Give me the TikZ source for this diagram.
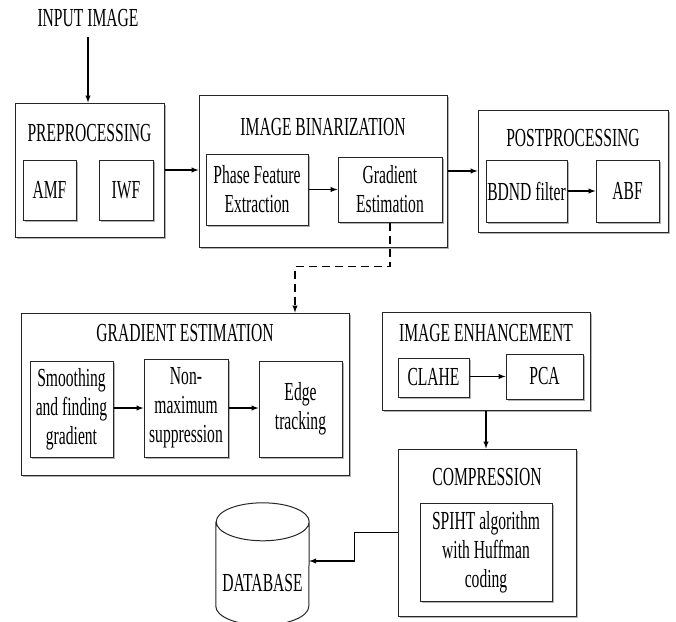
\documentclass[tikz,border=0pt]{standalone}
\usepackage{fontspec}
\setmainfont[FakeStretch=0.6]{Liberation Serif}
\usetikzlibrary{arrows}
\usetikzlibrary{shadows}

\tikzset{
  boxshadow/.style={drop shadow={fill=black!30, opacity=1, shadow xshift=1.5pt, shadow yshift=-1.5pt}},
  stagebox/.style={draw=black!85, line width=1pt, fill=white, boxshadow, inner sep=0pt},
  blockbox/.style={draw=black!85, line width=1pt, fill=white, boxshadow, inner sep=0pt, align=center},
  title/.style={inner sep=1pt},
  flow/.style={-latex, line width=1.4pt},
}

\begin{document}
\begin{tikzpicture}[x=1pt, y=-1pt, font=\fontsize{26}{29}\selectfont]
    \useasboundingbox (0, 0) rectangle (676, 621);

    % first row
    \node [title] (input) at (88, 18) {INPUT IMAGE};

    \node [stagebox, minimum width=149, minimum height=134] (pre) at (89.5, 170) {};
    \node [title] (pretitle) at (89.5, 133) {PREPROCESSING};
    \node [blockbox, minimum width=53, minimum height=60] (amf) at (49.5, 190) {AMF};
    \node [blockbox, minimum width=54, minimum height=60] (iwf) at (126, 190) {IWF};

    \node [stagebox, minimum width=248, minimum height=152] (bin) at (323, 171) {};
    \node [title] (bintitle) at (323, 127) {IMAGE BINARIZATION};
    \node [blockbox, minimum width=102, minimum height=71] (phase) at (257, 189.5) {Phase Feature\\Extraction};
    \node [blockbox, minimum width=104, minimum height=65] (grad) at (390, 189.5) {Gradient\\Estimation};

    \node [stagebox, minimum width=190, minimum height=122] (post) at (573, 171) {};
    \node [title] (posttitle) at (573, 138) {POSTPROCESSING};
    \node [blockbox, minimum width=81, minimum height=62] (bdnd) at (526.5, 191) {BDND filter};
    \node [blockbox, minimum width=63, minimum height=62] (abf) at (627.5, 191) {ABF};

    \draw [flow] (input.south) ++(0, 9) -- (input.south |- pre.north);
    \draw [flow] (pre.east) -- (bin.west |- pre.east);
    \draw [flow] (bin.east) -- (post.west);
    \draw [flow] (phase) -- (grad);
    \draw [flow] (bdnd) -- (abf);

    % second row
    \node [stagebox, minimum width=328, minimum height=162] (gest) at (185, 394) {};
    \node [title] (gesttitle) at (185, 333) {GRADIENT ESTIMATION};
    \node [blockbox, minimum width=83, minimum height=96] (smooth) at (71.5, 409) {Smoothing\\and finding\\gradient};
    \node [blockbox, minimum width=84, minimum height=98] (nonmax) at (186, 408) {Non-\\maximum\\suppression};
    \node [blockbox, minimum width=83, minimum height=96] (edge) at (300.5, 409) {Edge\\tracking};

    \node [stagebox, minimum width=208, minimum height=98] (enh) at (486, 361) {};
    \node [title] (enhtitle) at (486, 333) {IMAGE ENHANCEMENT};
    \node [blockbox, minimum width=71, minimum height=39] (clahe) at (433.5, 377.5) {CLAHE};
    \node [blockbox, minimum width=77, minimum height=45] (pca) at (544.5, 376.5) {PCA};

    \draw [flow, dash pattern=on 8pt off 5pt] (grad.south) -- ++(0, 44) -| ([xshift=110pt]gest.north);
    \draw [flow] (smooth.east |- nonmax) -- (nonmax);
    \draw [flow] (nonmax) -- (edge.west |- nonmax);
    \draw [flow] (clahe.east |- pca) -- (pca);

    % storage
    \node [stagebox, minimum width=178, minimum height=167] (comp) at (487, 532.5) {};
    \node [title] (comptitle) at (487, 477) {COMPRESSION};
    \node [blockbox, minimum width=132, minimum height=98] (spiht) at (486, 552) {SPIHT algorithm\\with Huffman\\coding};

    % database drum, body between the two end ellipses
    \node [minimum width=93, minimum height=84, inner sep=0pt] (db) at (262.5, 564) {};
    \draw [draw=black!85, line width=1pt]
      (db.north west) -- (db.south west)
      arc [start angle=180, end angle=360, x radius=46.5pt, y radius=19pt]
      -- (db.north east)
      arc [start angle=0, end angle=360, x radius=46.5pt, y radius=19pt];
    \node [title] (dbtitle) at (262.5, 583) {DATABASE};

    \draw [flow] (enh.south) -- (enh.south |- comp.north);
    \draw [flow] (comp.west) -- ++(-43, 0) |- ([yshift=3pt]db.east);
\end{tikzpicture}
\end{document}
